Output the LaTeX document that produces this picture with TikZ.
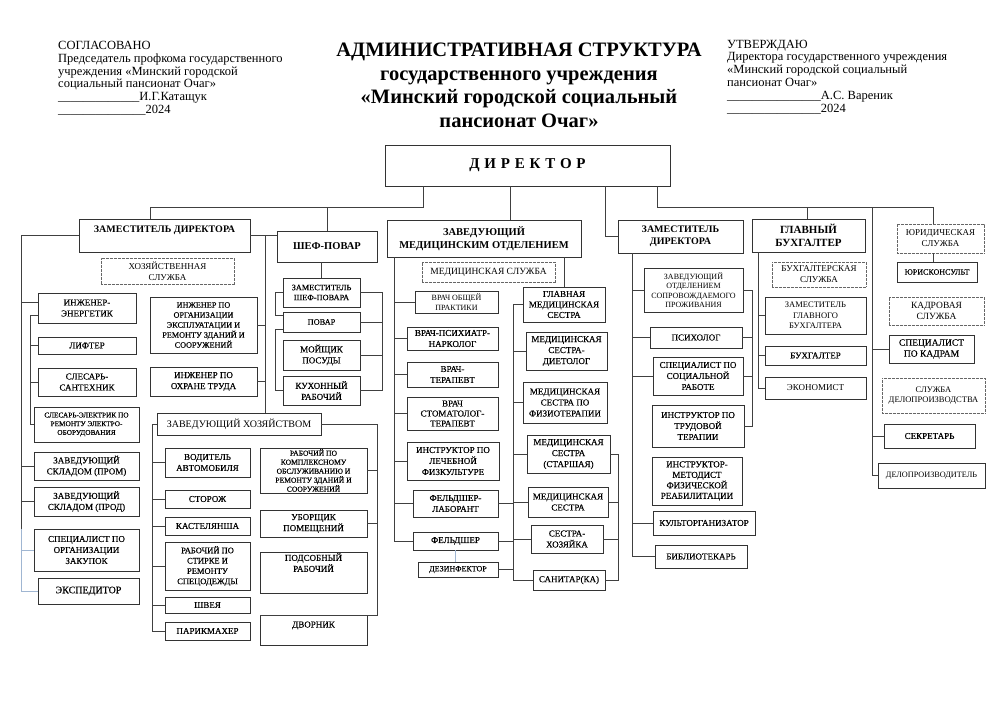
\documentclass[tikz,border=0pt]{standalone}
\usepackage{fontspec}
\setmainfont{Liberation Serif}
\definecolor{paleblue}{RGB}{160,182,210}
\newcommand\heavy{\addfontfeature{FakeBold=0.3}}

\begin{document}
\begin{tikzpicture}[x=1pt, y=-1pt,
  conn/.style={draw=black!75, line width=0.6pt},
  box/.style={draw=black!80, line width=0.6pt, fill=white, align=center, inner sep=1pt, font=\fontsize{9}{11}\selectfont\heavy},
  lightbox/.style={box, font=\fontsize{9}{11}\selectfont},
  headbox/.style={box, font=\fontsize{10}{11.5}\selectfont\bfseries},
  servbox/.style={lightbox, draw=black!60, dash pattern=on 1.6pt off 1pt on 0.4pt off 1pt},
  sz/.style 2 args={minimum width=#1pt, minimum height=#2pt}]

\useasboundingbox (0,0) rectangle (999,707);

% Header
\node[anchor=north west, align=left, inner sep=0, font=\fontsize{12.5}{12.8}\selectfont] (agreed) at (58,41)
  {СОГЛАСОВАНО\\Председатель профкома государственного\\учреждения «Минский городской\\социальный пансионат Очаг»\\\_\_\_\_\_\_\_\_\_\_\_\_\_И.Г.Катащук\\\_\_\_\_\_\_\_\_\_\_\_\_\_\_2024};
\node[anchor=north, align=center, inner sep=0, font=\fontsize{20.5}{23.5}\selectfont\bfseries] (title) at (519,43)
  {АДМИНИСТРАТИВНАЯ СТРУКТУРА\\государственного учреждения\\«Минский городской социальный\\пансионат Очаг»};
\node[anchor=north west, align=left, inner sep=0, font=\fontsize{12.5}{12.8}\selectfont] (approved) at (727,39.7)
  {УТВЕРЖДАЮ\\Директора государственного учреждения\\«Минский городской социальный\\пансионат Очаг»\\\_\_\_\_\_\_\_\_\_\_\_\_\_\_\_А.С. Вареник\\\_\_\_\_\_\_\_\_\_\_\_\_\_\_\_2024};

% Director
\node[box, sz={285}{41}, font=\fontsize{15}{17}\selectfont\bfseries\addfontfeature{LetterSpace=32}] (dir) at (527.5,165.5) {ДИРЕКТОР};

% Deputy director (household)
\node[headbox, sz={171}{33}, text depth=13pt] (zam1) at (164.5,235.5) {ЗАМЕСТИТЕЛЬ ДИРЕКТОРА};
\node[servbox, sz={133}{26}] (hozsl) at (167.5,271) {ХОЗЯЙСТВЕННАЯ\\СЛУЖБА};
\node[box, sz={98}{30}] (energ) at (87,308) {ИНЖЕНЕР-\\ЭНЕРГЕТИК};
\node[box, sz={98}{17}] (lift) at (87,345.5) {ЛИФТЕР};
\node[box, sz={98}{28}] (santeh) at (87,382) {СЛЕСАРЬ-\\САНТЕХНИК};
\node[box, sz={105}{35}, font=\fontsize{7.3}{8.7}\selectfont\heavy] (elektr) at (86.5,424.5) {СЛЕСАРЬ-ЭЛЕКТРИК ПО\\РЕМОНТУ ЭЛЕКТРО-\\ОБОРУДОВАНИЯ};
\node[box, sz={105}{28}] (sklprom) at (86.5,466) {ЗАВЕДУЮЩИЙ\\СКЛАДОМ (ПРОМ)};
\node[box, sz={105}{29}] (sklprod) at (86.5,501.5) {ЗАВЕДУЮЩИЙ\\СКЛАДОМ (ПРОД)};
\node[box, sz={105}{42}] (zakup) at (86.5,550) {СПЕЦИАЛИСТ ПО\\ОРГАНИЗАЦИИ\\ЗАКУПОК};
\node[box, sz={101}{26}, font=\fontsize{10}{11}\selectfont\heavy] (eksped) at (88.5,591) {ЭКСПЕДИТОР};
\node[box, sz={107}{56}, font=\fontsize{8.2}{10}\selectfont\heavy] (ingorg) at (203.5,325) {ИНЖЕНЕР ПО\\ОРГАНИЗАЦИИ\\ЭКСПЛУАТАЦИИ И\\РЕМОНТУ ЗДАНИЙ И\\СООРУЖЕНИЙ};
\node[box, sz={107}{29}] (ingohr) at (203.5,381.5) {ИНЖЕНЕР ПО\\ОХРАНЕ ТРУДА};

% Household manager
\node[lightbox, sz={164}{22}, font=\fontsize{10}{11}\selectfont] (zavhoz) at (239,424) {ЗАВЕДУЮЩИЙ ХОЗЯЙСТВОМ};
\node[box, sz={85}{29}] (voditel) at (207.5,462.5) {ВОДИТЕЛЬ\\АВТОМОБИЛЯ};
\node[box, sz={85}{18}] (storozh) at (207.5,499) {СТОРОЖ};
\node[box, sz={85}{18}] (kastel) at (207.5,526) {КАСТЕЛЯНША};
\node[box, sz={85}{48}, font=\fontsize{8.5}{10.3}\selectfont\heavy] (stirka) at (207.5,566) {РАБОЧИЙ ПО\\СТИРКЕ И\\РЕМОНТУ\\СПЕЦОДЕЖДЫ};
\node[box, sz={85}{16}] (shveya) at (207.5,605) {ШВЕЯ};
\node[box, sz={85}{18}] (parikm) at (207.5,631) {ПАРИКМАХЕР};
\node[box, sz={107}{45}, font=\fontsize{7.6}{9}\selectfont\heavy] (kompl) at (313.5,470.5) {РАБОЧИЙ ПО\\КОМПЛЕКСНОМУ\\ОБСЛУЖИВАНИЮ И\\РЕМОНТУ ЗДАНИЙ И\\СООРУЖЕНИЙ};
\node[box, sz={107}{27}] (uborsh) at (313.5,523.5) {УБОРЩИК\\ПОМЕЩЕНИЙ};
\node[box, sz={107}{41}, text depth=20pt] (podsob) at (313.5,572.5) {ПОДСОБНЫЙ\\РАБОЧИЙ};
\node[box, sz={107}{30}, text depth=11pt] (dvornik) at (313.5,630) {ДВОРНИК};

% Chef
\node[headbox, sz={100}{31}, font=\fontsize{10.5}{12}\selectfont\bfseries] (shef) at (327,246.5) {ШЕФ-ПОВАР};
\node[box, sz={77}{29}, font=\fontsize{8.3}{10}\selectfont\heavy] (zamshef) at (321.5,292.5) {ЗАМЕСТИТЕЛЬ\\ШЕФ-ПОВАРА};
\node[box, sz={77}{20}, font=\fontsize{8.3}{10}\selectfont\heavy] (povar) at (321.5,322) {ПОВАР};
\node[box, sz={77}{30}] (moysh) at (321.5,355) {МОЙЩИК\\ПОСУДЫ};
\node[box, sz={77}{29}] (kuhon) at (321.5,390.5) {КУХОННЫЙ\\РАБОЧИЙ};

% Head of the medical department
\node[headbox, sz={194}{37}, font=\fontsize{10.5}{12.5}\selectfont\bfseries] (zavmed) at (484,238.5) {ЗАВЕДУЮЩИЙ\\МЕДИЦИНСКИМ ОТДЕЛЕНИЕМ};
\node[servbox, sz={133}{20}, font=\fontsize{9.5}{10}\selectfont] (medsl) at (488.5,272) {МЕДИЦИНСКАЯ СЛУЖБА};
\node[lightbox, sz={83}{22}, font=\fontsize{8}{10}\selectfont] (vop) at (456.5,302) {ВРАЧ ОБЩЕЙ\\ПРАКТИКИ};
\node[box, sz={91}{23}] (psih) at (452.5,338.5) {ВРАЧ-ПСИХИАТР-\\НАРКОЛОГ};
\node[box, sz={91}{25}] (terap) at (452.5,374.5) {ВРАЧ-\\ТЕРАПЕВТ};
\node[box, sz={91}{33}, font=\fontsize{9}{10}\selectfont\heavy] (stom) at (452.5,413.5) {ВРАЧ\\СТОМАТОЛОГ-\\ТЕРАПЕВТ};
\node[box, sz={92}{38}] (lfk) at (453,461) {ИНСТРУКТОР ПО\\ЛЕЧЕБНОЙ\\ФИЗКУЛЬТУРЕ};
\node[box, sz={85}{27}] (lab) at (455.5,503.5) {ФЕЛЬДШЕР-\\ЛАБОРАНТ};
\node[box, sz={85}{18}] (feld) at (455.5,541) {ФЕЛЬДШЕР};
\node[box, sz={80}{15}, font=\fontsize{8}{9}\selectfont\heavy] (dezinf) at (458,569.5) {ДЕЗИНФЕКТОР};
\node[box, sz={82}{35}, font=\fontsize{9}{10.5}\selectfont\heavy] (glmed) at (564,304.5) {ГЛАВНАЯ\\МЕДИЦИНСКАЯ\\СЕСТРА};
\node[box, sz={81}{38}] (dietol) at (566.5,351) {МЕДИЦИНСКАЯ\\СЕСТРА-\\ДИЕТОЛОГ};
\node[box, sz={84}{41}] (fizio) at (565,402.5) {МЕДИЦИНСКАЯ\\СЕСТРА ПО\\ФИЗИОТЕРАПИИ};
\node[box, sz={83}{38}] (starsh) at (568.5,454) {МЕДИЦИНСКАЯ\\СЕСТРА\\(СТАРШАЯ)};
\node[box, sz={80}{30}] (medses) at (568,502) {МЕДИЦИНСКАЯ\\СЕСТРА};
\node[box, sz={72}{28}] (hozyay) at (567,539) {СЕСТРА-\\ХОЗЯЙКА};
\node[box, sz={72}{20}] (sanit) at (569,580) {САНИТАР(КА)};

% Deputy director (social)
\node[headbox, sz={125}{33}] (zam2) at (680.5,236.5) {ЗАМЕСТИТЕЛЬ\\ДИРЕКТОРА};
\node[lightbox, sz={99}{44}, font=\fontsize{8}{9.5}\selectfont] (zavotd) at (693.5,290) {ЗАВЕДУЮЩИЙ\\ОТДЕЛЕНИЕМ\\СОПРОВОЖДАЕМОГО\\ПРОЖИВАНИЯ};
\node[box, sz={92}{21}] (psiholog) at (696,337.5) {ПСИХОЛОГ};
\node[box, sz={90}{38}] (socrab) at (698,376) {СПЕЦИАЛИСТ ПО\\СОЦИАЛЬНОЙ\\РАБОТЕ};
\node[box, sz={92}{42}] (trud) at (698,426) {ИНСТРУКТОР ПО\\ТРУДОВОЙ\\ТЕРАПИИ};
\node[box, sz={90}{48}, font=\fontsize{9}{10.5}\selectfont\heavy] (metod) at (697,481) {ИНСТРУКТОР-\\МЕТОДИСТ\\ФИЗИЧЕСКОЙ\\РЕАБИЛИТАЦИИ};
\node[box, sz={102}{24}] (kultorg) at (704,523) {КУЛЬТОРГАНИЗАТОР};
\node[box, sz={92}{23}] (bibl) at (701,556.5) {БИБЛИОТЕКАРЬ};

% Chief accountant
\node[headbox, sz={113}{33}, font=\fontsize{11}{12.5}\selectfont\bfseries] (glbuh) at (808.5,235.5) {ГЛАВНЫЙ\\БУХГАЛТЕР};
\node[servbox, sz={94}{25}] (buhsl) at (819,274.5) {БУХГАЛТЕРСКАЯ\\СЛУЖБА};
\node[lightbox, sz={101}{37}, font=\fontsize{8.5}{10.5}\selectfont] (zamgl) at (815.5,315.5) {ЗАМЕСТИТЕЛЬ\\ГЛАВНОГО\\БУХГАЛТЕРА};
\node[box, sz={101}{19}] (buhg) at (815.5,355.5) {БУХГАЛТЕР};
\node[lightbox, sz={101}{22}] (ekon) at (815.5,388) {ЭКОНОМИСТ};

% Services directly under the director
\node[servbox, sz={87}{29}] (yursl) at (940.5,238.5) {ЮРИДИЧЕСКАЯ\\СЛУЖБА};
\node[box, sz={80}{20}, font=\fontsize{8}{9}\selectfont\heavy] (yurkons) at (937,272) {ЮРИСКОНСУЛЬТ};
\node[servbox, sz={95}{28}, font=\fontsize{9.5}{11}\selectfont] (kadrsl) at (936.5,311) {КАДРОВАЯ\\СЛУЖБА};
\node[box, sz={85}{28}, font=\fontsize{9.5}{11}\selectfont\heavy] (spkadr) at (931.5,349) {СПЕЦИАЛИСТ\\ПО КАДРАМ};
\node[servbox, sz={103}{35}, font=\fontsize{8.5}{10.5}\selectfont] (delosl) at (933.5,395.5) {СЛУЖБА\\ДЕЛОПРОИЗВОДСТВА};
\node[box, sz={91}{24}] (sekr) at (929.5,436) {СЕКРЕТАРЬ};
\node[lightbox, sz={107}{25}, font=\fontsize{8.2}{9}\selectfont] (deloproizv) at (931.5,475.5) {ДЕЛОПРОИЗВОДИТЕЛЬ};

% Junctions and bus lines
\coordinate (jL) at (423,207);
\coordinate (jZ) at (150,207);
\coordinate (jM) at (510,207);
\coordinate (jD) at (605,237);
\coordinate (jR) at (657,207);
\coordinate (jB) at (807,207);
\coordinate (jK) at (872,207);
\coordinate (jY) at (933,207);
\coordinate (zamLbus) at (21,0);
\coordinate (engbus) at (30,0);
\coordinate (zamRbus) at (265,0);
\coordinate (shefLbus) at (275,0);
\coordinate (shefRbus) at (382,0);
\coordinate (hozLbus) at (152,0);
\coordinate (hozRbus) at (377,0);
\coordinate (medLbus) at (394,0);
\coordinate (sisbus) at (513,0);
\coordinate (sisRbus) at (618,0);
\coordinate (zam2bus) at (632,0);
\coordinate (otdbus) at (752,0);
\coordinate (buhbus) at (758,0);

% Director links
\draw[conn] (dir.south -| jL) -- (jL) -- (jZ) -- (zam1.north -| jZ);
\draw[conn] (shef.north |- jL) -- (shef.north);
\draw[conn] (dir.south -| jM) -- (zavmed.north -| jM);
\draw[conn] (dir.south -| jD) |- (zam2.west);
\draw[conn] (dir.south -| jR) -- (jR) -- (jY) -- (yursl.north -| jY);
\draw[conn] (jB) -- (glbuh.north -| jB);
\draw[conn] (jK) |- (deloproizv.west);
\draw[conn] (spkadr.west -| jK) -- (spkadr.west) (sekr.west -| jK) -- (sekr.west);
\draw[conn] (yursl.south -| jY) -- (yurkons.north -| jY);

% Deputy director (household) links
\draw[conn] (zam1.west) -| (zamLbus |- zakup.north);
\draw[conn, draw=paleblue] (zamLbus |- zakup.north) |- (eksped.west);
\draw[conn, draw=paleblue] (zamLbus |- zakup.west) -- (zakup.west);
\draw[conn] (zamLbus |- energ.173) -- (energ.173) (zamLbus |- sklprom.west) -- (sklprom.west)
  (zamLbus |- sklprod.west) -- (sklprod.west);
\draw[conn] (energ.188) -| (engbus |- elektr.west) -- (elektr.west);
\draw[conn] (engbus |- lift.west) -- (lift.west) (engbus |- santeh.west) -- (santeh.west);
\draw[conn] (zam1.east) -- (zam1.east -| shef.west);
\draw[conn] (zam1.east -| zamRbus) -- (zavhoz.north -| zamRbus);
\draw[conn] (ingorg.east) -- (ingorg.east -| zamRbus) (ingohr.east) -- (ingohr.east -| zamRbus);

% Chef links
\draw[conn] (shef.south -| zamshef.north) -- (zamshef.north);
\draw[conn] (zamshef.west) -| (shefLbus |- povar.170) -- (povar.170);
\draw[conn] (povar.190) -| (shefLbus |- kuhon.west) -- (kuhon.west);
\draw[conn] (zamshef.east) -| (shefRbus |- kuhon.east) -- (kuhon.east);
\draw[conn] (povar.east) -- (povar.east -| shefRbus) (moysh.east) -- (moysh.east -| shefRbus);

% Household manager links
\draw[conn] (zavhoz.west) -| (hozLbus |- parikm.west) -- (parikm.west);
\draw[conn] (hozLbus |- voditel.west) -- (voditel.west) (hozLbus |- storozh.west) -- (storozh.west)
  (hozLbus |- kastel.west) -- (kastel.west) (hozLbus |- stirka.west) -- (stirka.west)
  (hozLbus |- shveya.west) -- (shveya.west);
\draw[conn] (zavhoz.east) -| (hozRbus |- dvornik.165) -- (dvornik.165);
\draw[conn] (kompl.east) -- (kompl.east -| hozRbus) (uborsh.east) -- (uborsh.east -| hozRbus);

% Medical department links
\draw[conn] (zavmed.south -| medLbus) |- (feld.west);
\draw[conn] (medLbus |- vop.west) -- (vop.west) (medLbus |- psih.west) -- (psih.west)
  (medLbus |- terap.west) -- (terap.west) (medLbus |- stom.west) -- (stom.west)
  (medLbus |- lfk.west) -- (lfk.west) (medLbus |- lab.west) -- (lab.west);
\draw[conn] (glmed.north |- zavmed.south) -- (glmed.north);
\draw[conn] (glmed.west) -| (sisbus |- sanit.west) -- (sanit.west);
\draw[conn] (sisbus |- dietol.west) -- (dietol.west) (sisbus |- fizio.west) -- (fizio.west)
  (sisbus |- starsh.west) -- (starsh.west) (sisbus |- medses.west) -- (medses.west)
  (sisbus |- hozyay.west) -- (hozyay.west);
\draw[conn] (lab.east) -- (lab.east -| sisbus) (feld.east) -- (feld.east -| sisbus)
  (dezinf.east) -- (dezinf.east -| sisbus);
\draw[conn, draw=paleblue] (feld.south) -- (feld.south |- dezinf.north);
\draw[conn] (starsh.east) -| (sisRbus |- sanit.east) -- (sanit.east);
\draw[conn] (medses.east) -- (medses.east -| sisRbus) (hozyay.east) -- (hozyay.east -| sisRbus);

% Deputy director (social) links
\draw[conn] (zam2.south -| zam2bus) |- (bibl.west);
\draw[conn] (zam2bus |- zavotd.west) -- (zavotd.west) (zam2bus |- psiholog.west) -- (psiholog.west)
  (zam2bus |- socrab.west) -- (socrab.west) (zam2bus |- kultorg.west) -- (kultorg.west);
\draw[conn] (zavotd.east) -| (otdbus |- trud.east) -- (trud.east);
\draw[conn] (psiholog.east) -- (psiholog.east -| otdbus) (socrab.east) -- (socrab.east -| otdbus);

% Chief accountant links
\draw[conn] (glbuh.south -| buhbus) |- (ekon.west);
\draw[conn] (buhbus |- zamgl.west) -- (zamgl.west) (buhbus |- buhg.west) -- (buhg.west);

\end{tikzpicture}
\end{document}
